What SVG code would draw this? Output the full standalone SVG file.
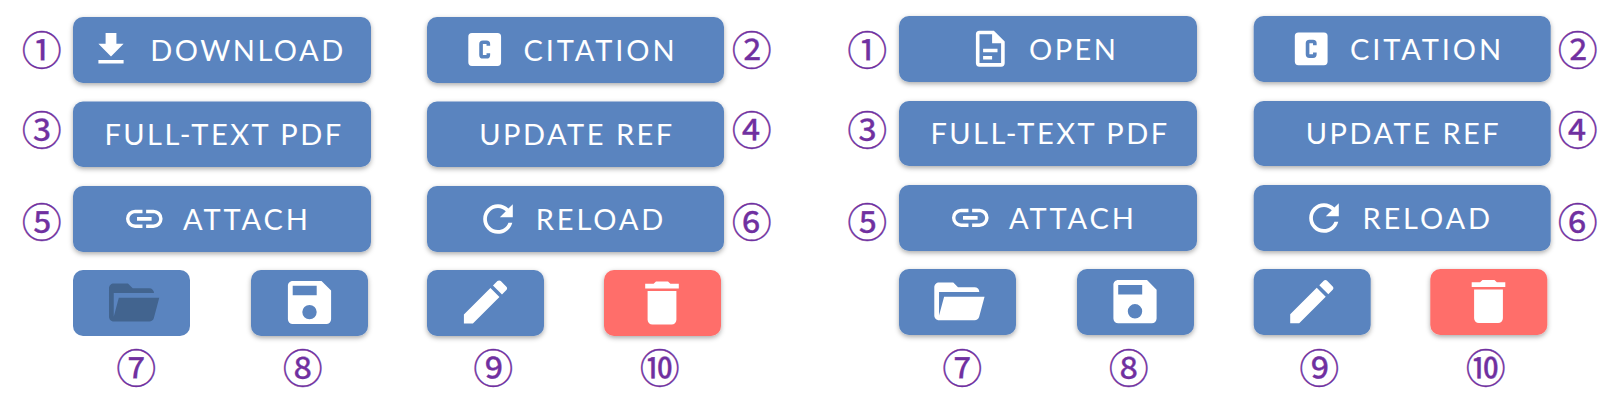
<svg xmlns="http://www.w3.org/2000/svg" width="1619" height="413" viewBox="0 0 1619 413">
<style>
.b{fill:#5a84bf;filter:url(#s)}
.d{fill:#ff6e6b;filter:url(#s)}
.t{font-family:"Lato","Liberation Sans",sans-serif;font-size:29px;letter-spacing:2.5px;fill:#fff;text-anchor:middle}
.w{letter-spacing:2.9px}
.m{font-family:"Noto Sans CJK JP","Noto Sans CJK SC",sans-serif;font-size:40px;fill:#7030a0;text-anchor:middle;stroke:#7030a0;stroke-width:.35}
.i{fill:#fff}
</style>
<defs>
<filter id="s" x="-10%" y="-15%" width="120%" height="140%"><feDropShadow dx="0" dy="2" stdDeviation="2.5" flood-color="#000" flood-opacity="0.33"/></filter>
<path id="download" d="M5,20H19V18H5M19,9H15V3H9V9H5L12,16L19,9Z"/>
<path id="file" d="M6,2A2,2 0 0,0 4,4V20A2,2 0 0,0 6,22H18A2,2 0 0,0 20,20V8L14,2H6M6,4H13V9H18V20H6V4M8,12V14H16V12H8M8,16V18H13V16H8Z"/>
<path id="link" d="M3.9,12C3.9,10.29 5.29,8.9 7,8.9H11V7H7A5,5 0 0,0 2,12A5,5 0 0,0 7,17H11V15.1H7C5.29,15.1 3.9,13.71 3.9,12M8,13H16V11H8V13M17,7H13V8.9H17C18.71,8.9 20.1,10.29 20.1,12C20.1,13.71 18.71,15.1 17,15.1H13V17H17A5,5 0 0,0 22,12A5,5 0 0,0 17,7Z"/>
<path id="refresh" d="M17.65,6.35C16.2,4.9 14.21,4 12,4A8,8 0 0,0 4,12A8,8 0 0,0 12,20C15.73,20 18.84,17.45 19.73,14H17.65C16.83,16.33 14.61,18 12,18A6,6 0 0,1 6,12A6,6 0 0,1 12,6C13.66,6 15.14,6.69 16.22,7.78L13,11H20V4L17.65,6.35Z"/>
<path id="folder" d="M19,20H4C2.89,20 2,19.1 2,18V6C2,4.89 2.89,4 4,4H10L12,6H19A2,2 0 0,1 21,8H21L4,8V18L6.14,10H23.21L20.93,18.5C20.7,19.37 19.92,20 19,20Z"/>
<path id="save" d="M15,9H5V5H15M12,19A3,3 0 0,1 9,16A3,3 0 0,1 12,13A3,3 0 0,1 15,16A3,3 0 0,1 12,19M17,3H5C3.89,3 3,3.9 3,5V19A2,2 0 0,0 5,21H19A2,2 0 0,0 21,19V7L17,3Z"/>
<path id="pencil" d="M20.71,7.04C21.1,6.65 21.1,6 20.71,5.63L18.37,3.29C18,2.9 17.35,2.9 16.96,3.29L15.12,5.12L18.87,8.87M3,17.25V21H6.75L17.81,9.93L14.06,6.18L3,17.25Z"/>
<path id="trash" d="M19,4H15.5L14.5,3H9.5L8.5,4H5V6H19M6,19A2,2 0 0,0 8,21H16A2,2 0 0,0 18,19V7H6V19Z"/>
<path id="cbox" fill-rule="evenodd" d="M5,3H19A2,2 0 0,1 21,5V19A2,2 0 0,1 19,21H5A2,2 0 0,1 3,19V5A2,2 0 0,1 5,3M11,7A2,2 0 0,0 9,9V15A2,2 0 0,0 11,17H13A2,2 0 0,0 15,15V14H13V15H11V9H13V10H15V9A2,2 0 0,0 13,7H11Z"/>
</defs>
<rect width="1619" height="413" fill="#fff"/>
<g id="connectors"/>

<g id="l1"><rect class="b" x="73" y="17" width="298" height="66" rx="10"/><use href="#download" class="i" transform="translate(111 49.2) scale(1.8) translate(-12 -12)"/><text class="t" x="248" y="61">DOWNLOAD</text><text class="m" x="41.7" y="64.8">①</text></g>
<g id="l2"><rect class="b" x="427" y="17" width="297" height="66" rx="10"/><use href="#cbox" class="i" transform="translate(484.7 49.5) scale(1.82) translate(-12 -12)"/><text class="t w" x="600.5" y="61">CITATION</text><text class="m" x="751.7" y="64.8">②</text></g>
<g id="l3"><rect class="b" x="73" y="101.5" width="298" height="65.5" rx="10"/><text class="t" x="224" y="145">FULL-TEXT PDF</text><text class="m" x="41.7" y="144.8">③</text></g>
<g id="l4"><rect class="b" x="427" y="101.5" width="297" height="65.5" rx="10"/><text class="t" x="577" y="145">UPDATE REF</text><text class="m" x="751.7" y="144.8">④</text></g>
<g id="l5"><rect class="b" x="73" y="186" width="298" height="66" rx="10"/><use href="#link" class="i" transform="translate(144.3 218.8) scale(1.83) translate(-12 -12)"/><text class="t w" x="247" y="230">ATTACH</text><text class="m" x="41.7" y="236.8">⑤</text></g>
<g id="l6"><rect class="b" x="427" y="186" width="297" height="66" rx="10"/><use href="#refresh" class="i" transform="translate(498 219) scale(1.85) translate(-12 -12)"/><text class="t w" x="601" y="230">RELOAD</text><text class="m" x="751.7" y="236.8">⑥</text></g>
<g id="l7"><rect x="73" y="270" width="117" height="66" rx="10" fill="#5a84bf"/><use href="#folder" fill="#42648f" transform="translate(132.7 302.5) scale(2.37) translate(-12 -12)"/><text class="m" x="136.3" y="382.8">⑦</text></g>
<g id="l8"><rect class="b" x="251" y="270" width="117" height="66" rx="10"/><use href="#save" class="i" transform="translate(309.5 302.5) scale(2.4) translate(-12 -12)"/><text class="m" x="302.7" y="382.8">⑧</text></g>
<g id="l9"><rect class="b" x="427" y="270" width="117" height="66" rx="10"/><use href="#pencil" class="i" transform="translate(485.5 302) scale(2.4) translate(-12 -12)"/><text class="m" x="493.3" y="382.8">⑨</text></g>
<g id="l10"><rect class="d" x="604" y="270" width="117" height="66" rx="10"/><use href="#trash" class="i" transform="translate(662 303) scale(2.4) translate(-12 -12)"/><text class="m" x="659.7" y="382.8">⑩</text></g>

<g id="r1"><rect class="b" x="899" y="16" width="298" height="66" rx="10"/><use href="#file" class="i" transform="translate(990.3 48.7) scale(1.8) translate(-12 -12)"/><text class="t" x="1073.7" y="60">OPEN</text><text class="m" x="867.3" y="64.8">①</text></g>
<g id="r2"><rect class="b" x="1253.7" y="16" width="297" height="66" rx="10"/><use href="#cbox" class="i" transform="translate(1311.2 48.8) scale(1.82) translate(-12 -12)"/><text class="t w" x="1427" y="60">CITATION</text><text class="m" x="1577.7" y="64.8">②</text></g>
<g id="r3"><rect class="b" x="899" y="101" width="298" height="65" rx="10"/><text class="t" x="1050" y="144">FULL-TEXT PDF</text><text class="m" x="867.3" y="144.8">③</text></g>
<g id="r4"><rect class="b" x="1253.7" y="101" width="297" height="65" rx="10"/><text class="t" x="1403.5" y="144">UPDATE REF</text><text class="m" x="1577.7" y="144.8">④</text></g>
<g id="r5"><rect class="b" x="899" y="185" width="298" height="66" rx="10"/><use href="#link" class="i" transform="translate(970.3 217.8) scale(1.83) translate(-12 -12)"/><text class="t w" x="1073" y="229">ATTACH</text><text class="m" x="867.3" y="236.8">⑤</text></g>
<g id="r6"><rect class="b" x="1253.7" y="185" width="297" height="66" rx="10"/><use href="#refresh" class="i" transform="translate(1324 218) scale(1.85) translate(-12 -12)"/><text class="t w" x="1427.7" y="229">RELOAD</text><text class="m" x="1577.7" y="236.8">⑥</text></g>
<g id="r7"><rect class="b" x="899" y="269" width="117" height="66" rx="10"/><use href="#folder" class="i" transform="translate(958 301.4) scale(2.37) translate(-12 -12)"/><text class="m" x="962.3" y="382.8">⑦</text></g>
<g id="r8"><rect class="b" x="1077" y="269" width="117" height="66" rx="10"/><use href="#save" class="i" transform="translate(1135 301.7) scale(2.4) translate(-12 -12)"/><text class="m" x="1128.7" y="382.8">⑧</text></g>
<g id="r9"><rect class="b" x="1253.7" y="269" width="117" height="66" rx="10"/><use href="#pencil" class="i" transform="translate(1311.8 301.7) scale(2.4) translate(-12 -12)"/><text class="m" x="1319.3" y="382.8">⑨</text></g>
<g id="r10"><rect class="d" x="1430.3" y="269" width="117" height="66" rx="10"/><use href="#trash" class="i" transform="translate(1488.5 301.5) scale(2.4) translate(-12 -12)"/><text class="m" x="1485.7" y="382.8">⑩</text></g>
</svg>
